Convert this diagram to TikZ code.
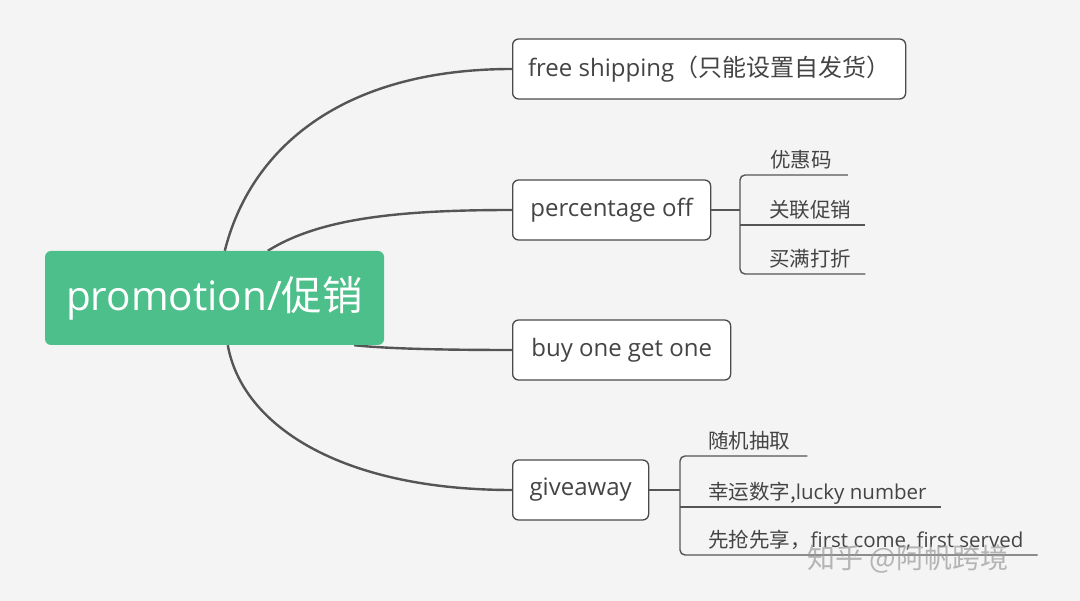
\documentclass[tikz,border=0pt]{standalone}
\usepackage{fontspec}
\setmainfont{Open Sans}
\newfontfamily\cjk{Noto Sans CJK SC}
\usetikzlibrary{backgrounds}
\definecolor{bg}{HTML}{F4F4F4}
\definecolor{rootgreen}{HTML}{4DBF8B}
\definecolor{linegray}{HTML}{555555}
\definecolor{textgray}{HTML}{444444}
\definecolor{boxline}{HTML}{4A4A4A}
\tikzset{
  rootbox/.style={fill=rootgreen, rounded corners=6pt, minimum width=339pt, minimum height=94pt,
    text=white, font=\fontsize{40.5}{44}\selectfont, inner sep=0pt},
  branchbox/.style={draw=boxline, line width=1.3pt, fill=white, rounded corners=6pt,
    minimum height=60pt, text=textgray, font=\fontsize{24}{28}\selectfont, inner sep=0pt, anchor=west},
  subitem/.style={text=textgray, font=\fontsize{20.5}{24}\selectfont, inner sep=0pt, anchor=base west},
  mainlink/.style={draw=linegray, line width=2.4pt},
  sublink/.style={draw=linegray, line width=1.4pt, rounded corners=5pt},
}
\begin{document}
\begin{tikzpicture}[x=1pt,y=-1pt]
\useasboundingbox (0,0) rectangle (1080,601);
\node[rootbox] (root) at (214.5,298) {promotion/{\cjk 促销}};
\node[branchbox, minimum width=393pt] (fs) at (512,69) {free shipping{\cjk（只能设置自发货）}};
\node[branchbox, minimum width=198pt] (po) at (512,210) {percentage off};
\node[branchbox, minimum width=218pt] (bo) at (512,350) {buy one get one};
\node[branchbox, minimum width=136pt] (gw) at (512,490) {giveaway};

% percentage off sub items
\coordinate (pu1) at (740,175);
\coordinate (pu2) at (740,225);
\coordinate (pu3) at (740,274);
\node[subitem] (ps1) at (770,168) {\cjk 优惠码};
\node[subitem] (ps2) at (769,218) {\cjk 关联促销};
\node[subitem] (ps3) at (769,267) {\cjk 买满打折};

% giveaway sub items
\coordinate (gu1) at (680,456);
\coordinate (gu2) at (680,507);
\coordinate (gu3) at (680,555);
\node[subitem] (gs1) at (708,449) {\cjk 随机抽取};
\node[subitem] (gs2) at (708,500) {{\cjk 幸运数字,}lucky number};
\node[subitem] (gs3) at (708,548) {{\cjk 先抢先享，}first come, first served};

\begin{scope}[on background layer]
  \fill[bg] (0,0) rectangle (1080,601);
  \draw[mainlink] ([xshift=180pt]root.north west) .. controls (250,150) and (340,69) .. (fs.west);
  \draw[mainlink] ([xshift=223pt]root.north west) .. controls (320,218) and (400,210) .. (po.west);
  \draw[mainlink] ([xshift=-30pt]root.south east) .. controls (390,349) and (450,350) .. (bo.west);
  \draw[mainlink] ([xshift=183pt]root.south west) .. controls (242,425) and (340,490) .. (gw.west);
\end{scope}

% brackets
\draw[sublink] (po.east) -- (po.east -| pu1);
\draw[sublink] ([xshift=16pt]pu1 -| ps1.east) -- (pu1) -- (pu3) -- ([xshift=14pt]pu3 -| ps3.east);
\draw[sublink] (pu2) -- ([xshift=14pt]pu2 -| ps2.east);

\draw[sublink] (gw.east) -- (gw.east -| gu1);
\draw[sublink] ([xshift=17pt]gu1 -| gs1.east) -- (gu1) -- (gu3) -- ([xshift=14pt]gu3 -| gs3.east);
\draw[sublink] (gu2) -- ([xshift=14pt]gu2 -| gs2.east);

% watermark
\node[text=black!40, opacity=0.7, font=\cjk\fontsize{28}{30}\selectfont, inner sep=0pt] (wm) at (908,559) {知乎 @阿帆跨境};
\end{tikzpicture}
\end{document}
